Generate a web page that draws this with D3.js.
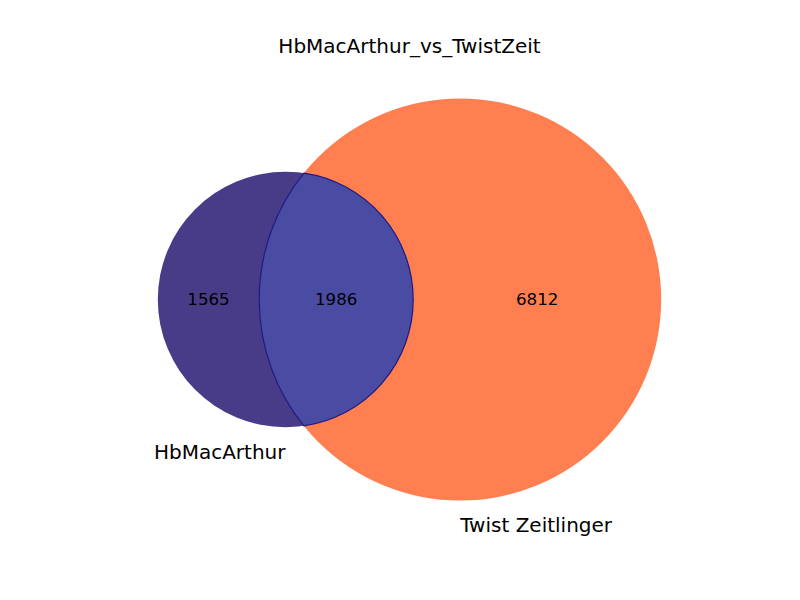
<!DOCTYPE html>
<html>
<head>
<meta charset="utf-8">
<script src="https://cdn.jsdelivr.net/npm/d3@7"></script>
<style>
  body { margin: 0; background: #fff; }
  text { font-family: "DejaVu Sans", sans-serif; }
</style>
</head>
<body>
<svg width="800" height="600"></svg>
<script>
// venn2 of two gene sets, region sizes
const title = "HbMacArthur_vs_TwistZeit";
const setNames = ["HbMacArthur", "Twist Zeitlinger"];
const subsetKeys = ["10", "11", "01"];
const subsetSizes = [1565, 1986, 6812];
const regionColors = ["#483c89", "#4a4ca3", "#ff7f50"];

const svg = d3.select("svg"),
    width = +svg.attr("width"),
    cx = 409.5, cy = 299.5;

const onlyA = subsetSizes[0], both = subsetSizes[1], onlyB = subsetSizes[2];
const totalA = onlyA + both, totalB = onlyB + both;

// circle area proportional to set size
const r = d3.scaleSqrt().domain([0, totalB]).range([0, 201]);
const rA = r(totalA), rB = r(totalB);
const targetLens = Math.PI * rB * rB * both / totalB;

function lensArea(d) {
  const a1 = Math.acos((d * d + rA * rA - rB * rB) / (2 * d * rA));
  const a2 = Math.acos((d * d + rB * rB - rA * rA) / (2 * d * rB));
  return rA * rA * (a1 - Math.sin(2 * a1) / 2) + rB * rB * (a2 - Math.sin(2 * a2) / 2);
}

// bisection for distance between centres
let lo = rB - rA + 1e-6, hi = rA + rB - 1e-6;
for (let i = 0; i < 80; i++) {
  const mid = (lo + hi) / 2;
  if (lensArea(mid) > targetLens) lo = mid; else hi = mid;
}
const dist = (lo + hi) / 2;

const left = cx - (rA + dist + rB) / 2;
const xA = left + rA, xB = xA + dist;

const g = svg.append("g");

g.append("circle")
    .attr("cx", xA).attr("cy", cy).attr("r", rA)
    .attr("fill", regionColors[0]);

g.append("circle")
    .attr("cx", xB).attr("cy", cy).attr("r", rB)
    .attr("fill", regionColors[2]);

// overlap lens
const ax = (dist * dist + rA * rA - rB * rB) / (2 * dist),
    h = Math.sqrt(rA * rA - ax * ax),
    px = xA + ax;
const lens = "M" + px + "," + (cy - h) +
    "A" + rA + "," + rA + " 0 " + (ax < 0 ? 1 : 0) + " 1 " + px + "," + (cy + h) +
    "A" + rB + "," + rB + " 0 " + (ax > dist ? 1 : 0) + " 1 " + px + "," + (cy - h) + "Z";

g.append("path")
    .attr("d", lens)
    .attr("fill", regionColors[1])
    .attr("stroke", "#1c1a84")
    .attr("stroke-width", 1.2);

// subset labels sit midway along the horizontal extent of each region
const labelX = [
  ((xA - rA) + (xB - rB)) / 2,
  ((xB - rB) + (xA + rA)) / 2,
  ((xA + rA) + (xB + rB)) / 2
];

g.selectAll(".subset")
  .data(subsetKeys)
  .enter().append("text")
    .attr("class", "subset")
    .attr("x", function(d, i) { return labelX[i]; })
    .attr("y", cy + 5)
    .attr("text-anchor", "middle")
    .attr("font-size", "16.7px")
    .attr("fill", "#000")
    .text(function(d, i) { return subsetSizes[i]; });

g.append("text")
    .attr("x", xA).attr("y", cy + rA + 32)
    .attr("text-anchor", "end")
    .attr("font-size", "20px")
    .text(setNames[0]);

g.append("text")
    .attr("x", xB).attr("y", cy + rB + 31)
    .attr("text-anchor", "start")
    .attr("font-size", "20px")
    .text(setNames[1]);

svg.append("text")
    .attr("x", width / 2 + 9.5)
    .attr("y", 53)
    .attr("text-anchor", "middle")
    .attr("font-size", "20px")
    .text(title);
</script>
</body>
</html>
